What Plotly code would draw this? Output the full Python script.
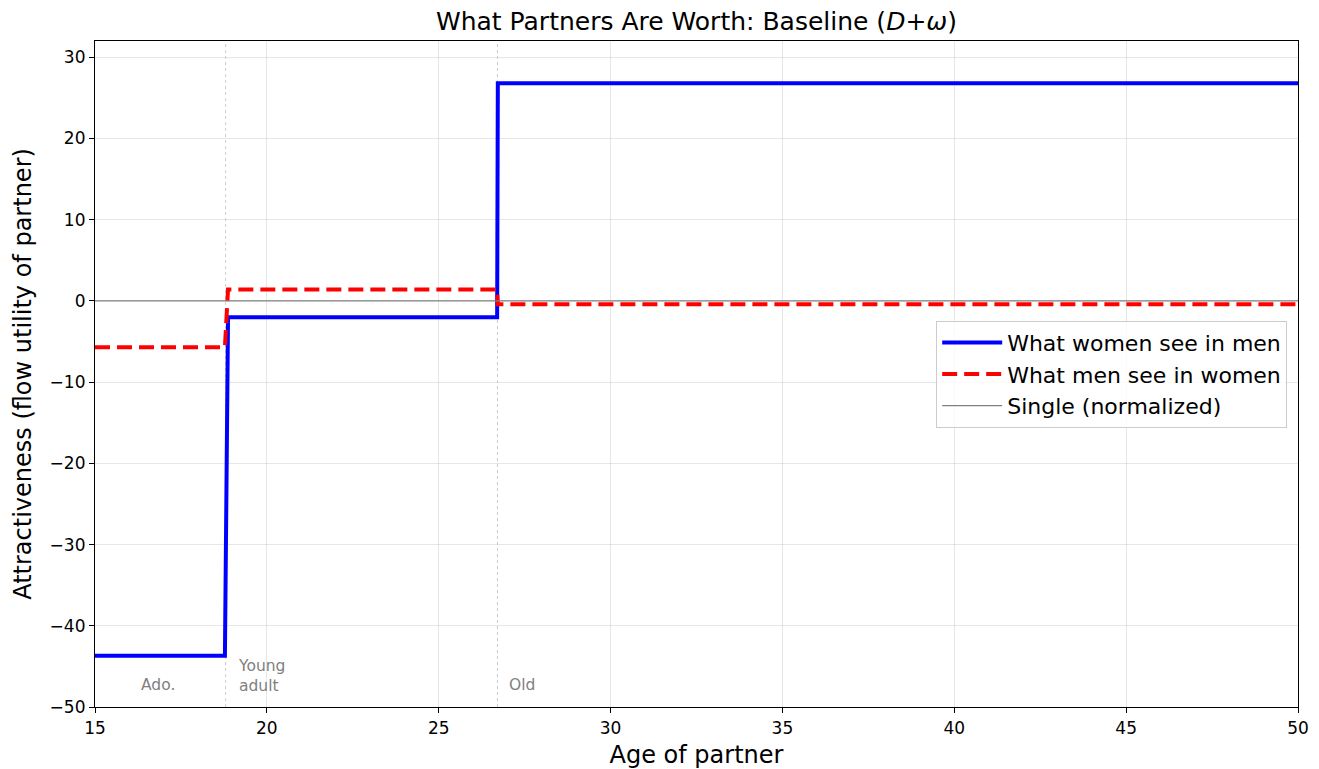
import plotly.graph_objects as go

# Data
ages = [15.0, 18.78, 18.87, 26.70, 26.72, 50.0]
women_see_men = [-43.7, -43.7, -2.0, -2.0, 26.8, 26.8]
men_see_women = [-5.7, -5.7, 1.4, 1.4, -0.4, -0.4]
single_x = [15.0, 50.0]
single_y = [0.0, 0.0]
stage_bounds = [18.80, 26.71]
stage_labels = ["Ado.", "Young<br>adult", "Old"]
stage_label_x = [16.83, 19.1, 27.0]
x_ticks = [15, 20, 25, 30, 35, 40, 45, 50]
y_ticks = [-50, -40, -30, -20, -10, 0, 10, 20, 30]

FONT = "DejaVu Sans"

fig = go.Figure()
fig.add_trace(go.Scatter(x=ages, y=women_see_men, mode="lines",
                         name="What women see in men", legendgroup="a",
                         line=dict(color="#0000ff", width=4)))
fig.add_trace(go.Scatter(x=ages, y=men_see_women, mode="lines",
                         name="What men see in women", legendgroup="b",
                         line=dict(color="#ff0000", width=4, dash="15px,7px")))
fig.add_trace(go.Scatter(x=single_x, y=single_y, mode="lines",
                         name="Single (normalized)", legendgroup="c",
                         line=dict(color="gray", width=1.2)))

for b in stage_bounds:
    fig.add_shape(type="line", x0=b, x1=b, y0=0, y1=1, xref="x", yref="paper",
                  line=dict(color="rgba(128,128,128,0.4)", width=1, dash="dot"),
                  layer="below")

ann_font = dict(family=FONT, size=15.5, color="gray")
fig.add_annotation(x=stage_label_x[0], y=-47.3, text=stage_labels[0], showarrow=False,
                   xanchor="center", yanchor="middle", font=ann_font)
fig.add_annotation(x=stage_label_x[1], y=-46.2, text=stage_labels[1], showarrow=False,
                   xanchor="left", yanchor="middle", align="left", font=ann_font)
fig.add_annotation(x=stage_label_x[2], y=-47.3, text=stage_labels[2], showarrow=False,
                   xanchor="left", yanchor="middle", font=ann_font)

axis_common = dict(showline=True, linecolor="black", linewidth=1.2, mirror=True,
                   ticks="outside", ticklen=5, tickcolor="black", automargin=False,
                   showgrid=True, gridcolor="rgba(200,200,200,0.45)", gridwidth=1,
                   zeroline=False, tickfont=dict(family=FONT, size=17, color="black"))

fig.update_layout(
    width=1319, height=769,
    margin=dict(l=95, r=21, t=41, b=62),
    paper_bgcolor="white", plot_bgcolor="white",
    title=dict(text="What Partners Are Worth: Baseline (<i>D</i>+<i>ω</i>)",
               x=0.5, xref="paper", xanchor="center", y=1 - 21 / 769, yanchor="middle",
               font=dict(family=FONT, size=25, color="black")),
    xaxis=dict(range=[15, 50], tickvals=x_ticks,
               title=dict(text="Age of partner", font=dict(family=FONT, size=24, color="black"),
                          standoff=10),
               **axis_common),
    yaxis=dict(range=[-50, 32], tickvals=y_ticks,
               title=dict(text="Attractiveness (flow utility of partner)",
                          font=dict(family=FONT, size=24, color="black"), standoff=11),
               **axis_common),
    legend=dict(x=0.991, y=0.58, xanchor="right", yanchor="top",
                bgcolor="rgba(255,255,255,0.8)", bordercolor="#cccccc", borderwidth=1,
                font=dict(family=FONT, size=22, color="black"),
                tracegroupgap=0, itemwidth=60),
    showlegend=True,
)
fig.update_yaxes(ticktext=[("−" + str(abs(v))) if v < 0 else str(v) for v in y_ticks])

fig.write_html("out.html",
               config={"displayModeBar": False},
               post_script="document.body.style.margin='0';document.body.style.overflow='hidden';")
